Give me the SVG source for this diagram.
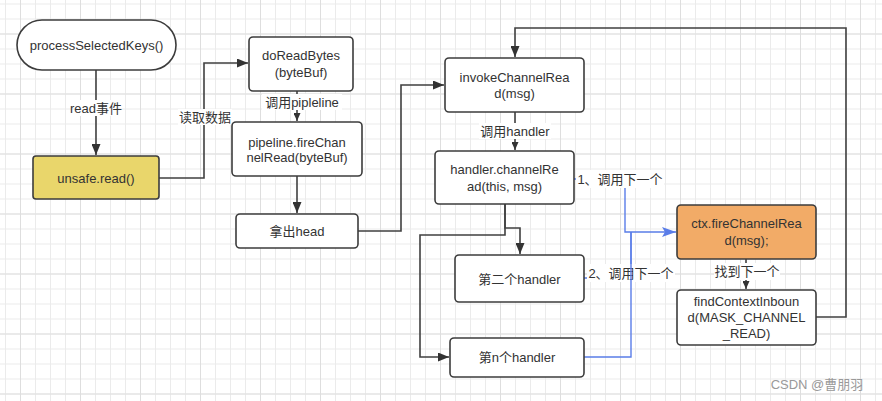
<svg xmlns="http://www.w3.org/2000/svg" width="882" height="401" viewBox="0 0 882 401">
<defs>
<pattern id="gs" patternUnits="userSpaceOnUse" x="5" y="3.5" width="15" height="15"><path d="M0.5 0V15M0 0.5H15" stroke="#ebebeb" stroke-width="1" fill="none"/></pattern>
<pattern id="gl" patternUnits="userSpaceOnUse" x="20" y="33.5" width="60" height="60"><path d="M0.5 0V60M0 0.5H60" stroke="#dedede" stroke-width="1" fill="none"/></pattern>
<marker id="ab" markerUnits="userSpaceOnUse" markerWidth="11" markerHeight="9" refX="11" refY="4.5" orient="auto"><path d="M0,0 L11,4.5 L0,9 z" fill="#333"/></marker>
<marker id="as" markerUnits="userSpaceOnUse" markerWidth="8" markerHeight="7" refX="8" refY="3.5" orient="auto"><path d="M0,0 L8,3.5 L0,7 z" fill="#333"/></marker>
<marker id="abl" markerUnits="userSpaceOnUse" markerWidth="14" markerHeight="10" refX="14" refY="5" orient="auto"><path d="M0,0 L14,5 L0,10 L3,5 z" fill="#5a7de8"/></marker>
</defs>
<style>
.n{fill:#fff;stroke:#3c3c3c;stroke-width:1.6}
.t{font-family:"Liberation Sans","Noto Sans CJK SC",sans-serif;font-size:13px;fill:#333;text-anchor:middle;dominant-baseline:central}
.c{fill:none;stroke:#404040;stroke-width:1.6}
.b{fill:none;stroke:#5a7de8;stroke-width:1.4}
.lb{fill:#fff}
</style>
<rect width="882" height="401" fill="#fff"/>
<rect width="882" height="401" fill="url(#gs)"/>
<rect width="882" height="401" fill="url(#gl)"/>

<g id="connectors">
<path class="c" d="M96,70 V155" marker-end="url(#ab)"/>
<path class="c" d="M159,178 H204 V63 H248" marker-end="url(#ab)"/>
<path class="c" d="M297,91 V121" marker-end="url(#as)"/>
<path class="c" d="M297,176 V213" marker-end="url(#ab)"/>
<path class="c" d="M358,231 H401 V85 H444" marker-end="url(#ab)"/>
<path class="c" d="M515,112 V150" marker-end="url(#as)"/>
<path class="c" d="M505,204 V228 H520 V254" marker-end="url(#ab)"/>
<path class="c" d="M505,204 V235 H420 V357 H449" marker-end="url(#ab)"/>
<path class="c" d="M746,259 V289" marker-end="url(#as)"/>
<path class="c" d="M816,317 H846 V28 H515 V57" marker-end="url(#ab)"/>
<path class="b" d="M574,179 H625 V232 H676" marker-end="url(#abl)"/>
<path class="b" d="M584,278 H631 V232"/>
<rect class="lb" x="76" y="100" width="40" height="16"/>
<text class="t" x="96" y="108">read事件</text>
<rect class="lb" x="178" y="109" width="54" height="16"/>
<text class="t" x="205" y="117">读取数据</text>
<rect class="lb" x="262" y="94" width="80" height="16"/>
<text class="t" x="302" y="102">调用pipleline</text>
<rect class="lb" x="479" y="123" width="72" height="16"/>
<text class="t" x="515" y="131">调用handler</text>
<rect class="lb" x="576" y="170" width="88" height="18"/>
<text class="t" x="620" y="179">1、调用下一个</text>
<rect class="lb" x="587" y="264" width="88" height="18"/>
<text class="t" x="631" y="273">2、调用下一个</text>
<path class="b" d="M584,357 H631 V232"/>
<rect class="lb" x="714" y="263" width="66" height="17"/>
<text class="t" x="747" y="271.5">找到下一个</text>
</g>

<g id="processSelectedKeys">
<rect class="n" x="17" y="20" width="159" height="50" rx="25"/>
<text class="t" x="96.5" y="45">processSelectedKeys()</text>
</g>
<g id="unsafeRead">
<rect class="n" x="33" y="156" width="126" height="43" rx="3" style="fill:#e9d66b"/>
<text class="t" x="96" y="178">unsafe.read()</text>
</g>
<g id="doReadBytes">
<rect class="n" x="249" y="37" width="104" height="54" rx="4"/>
<text class="t" x="301" y="55">doReadBytes</text>
<text class="t" x="301" y="72">(byteBuf)</text>
</g>
<g id="pipelineFire">
<rect class="n" x="232" y="122" width="130" height="54" rx="4"/>
<text class="t" x="297" y="142">pipeline.fireChan</text>
<text class="t" x="297" y="157">nelRead(byteBuf)</text>
</g>
<g id="head">
<rect class="n" x="236" y="214" width="122" height="34" rx="4"/>
<text class="t" x="297" y="231">拿出head</text>
</g>
<g id="invokeChannelRead">
<rect class="n" x="445" y="58" width="139" height="54" rx="4"/>
<text class="t" x="514.5" y="77.5">invokeChannelRea</text>
<text class="t" x="514.5" y="93.5">d(msg)</text>
</g>
<g id="handlerChannelRead">
<rect class="n" x="435" y="151" width="139" height="53" rx="4"/>
<text class="t" x="504.5" y="169.5">handler.channelRe</text>
<text class="t" x="504.5" y="186">ad(this, msg)</text>
</g>
<g id="handler2">
<rect class="n" x="455" y="255" width="129" height="47" rx="4"/>
<text class="t" x="519.5" y="279">第二个handler</text>
</g>
<g id="handlerN">
<rect class="n" x="450" y="338" width="134" height="39" rx="4"/>
<text class="t" x="517" y="357">第n个handler</text>
</g>
<g id="ctxFire">
<rect class="n" x="677" y="205" width="139" height="54" rx="4" style="fill:#f2ab67"/>
<text class="t" x="746.5" y="223.5">ctx.fireChannelRea</text>
<text class="t" x="746.5" y="240">d(msg);</text>
</g>
<g id="findContext">
<rect class="n" x="677" y="290" width="139" height="55" rx="4"/>
<text class="t" x="746.5" y="301.5">findContextInboun</text>
<text class="t" x="746.5" y="317">d(MASK_CHANNEL</text>
<text class="t" x="746.5" y="333">_READ)</text>
</g>
<text x="817" y="384" style="font-family:'Liberation Sans','Noto Sans CJK SC',sans-serif;font-size:13px;fill:#999;text-anchor:middle;dominant-baseline:central">CSDN @曹朋羽</text>
</svg>
